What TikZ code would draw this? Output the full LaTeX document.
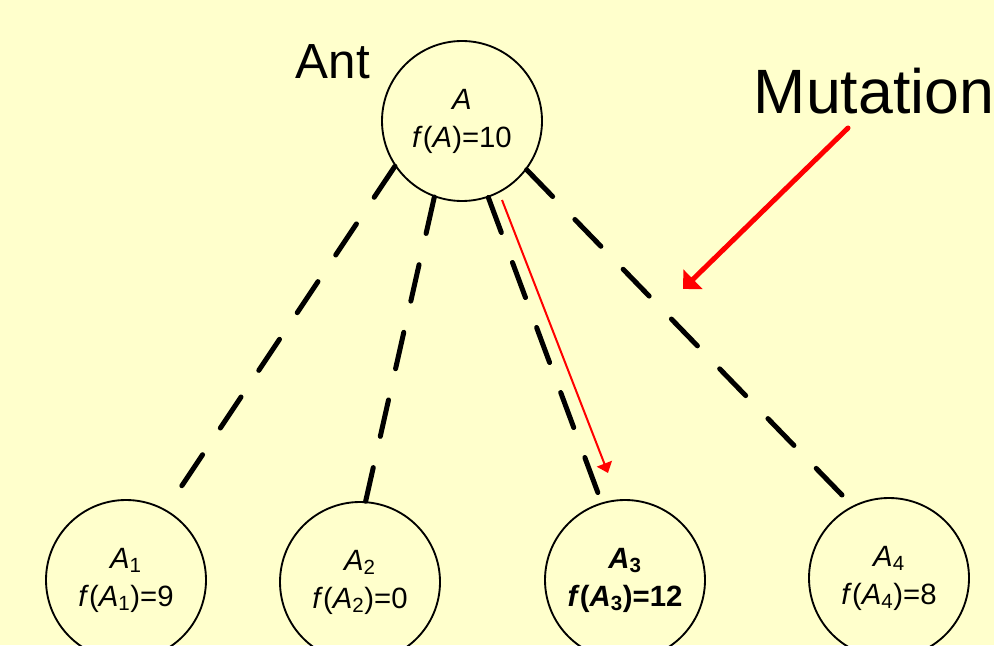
\documentclass[tikz,border=0pt]{standalone}
\usepackage{fontspec}
\setmainfont{Liberation Sans}
\usetikzlibrary{arrows.meta}
\definecolor{bgyellow}{RGB}{255,255,204}

\begin{document}
\begin{tikzpicture}[x=.75pt,y=-.75pt,line width=1.4pt,
  antnode/.style={circle,draw,minimum size=120pt,inner sep=0pt,align=center,
    font=\fontsize{22}{28.5}\selectfont},
  bestnode/.style={antnode,font=\fontsize{22}{28.5}\selectfont\bfseries},
  move/.style={line width=3.75pt,line cap=round,dash pattern=on 28pt off 24pt},
  label/.style={inner sep=0pt,anchor=base west}]
  \useasboundingbox[fill=bgyellow] (0,0) rectangle (994,645);
  % current ant and its four neighbours
  \node[antnode] (A) at (462,121) {\textit{A}\\\textit{f}(\textit{A})=10};
  \node[antnode] (A1) at (126,580) {\textit{A}\textsubscript{1}\\\textit{f}(\textit{A}\textsubscript{1})=9};
  \node[antnode] (A2) at (360,582) {\textit{A}\textsubscript{2}\\\textit{f}(\textit{A}\textsubscript{2})=0};
  \node[bestnode] (A3) at (625,580) {\textit{A}\textsubscript{3}\\\textit{f}(\textit{A}\textsubscript{3})=12};
  \node[antnode] (A4) at (889,578) {\textit{A}\textsubscript{4}\\\textit{f}(\textit{A}\textsubscript{4})=8};
  \node[label,font=\fontsize{37}{44}\selectfont] (antlbl) at (295,79) {Ant};
  \node[label,font=\fontsize{47}{56}\selectfont] (mutlbl) at (753,114) {Mutation};
  % dashed moves
  \coordinate (e1) at (181,487);
  \coordinate (e3) at (598,493);
  \coordinate (e4) at (842,495);
  \draw[move] (A.214)--(e1);
  \draw[move] (A.250)--(A2.86);
  \draw[move] (A.289)--(e3);
  \draw[move] (A.323)--(e4);
  % chosen move and mutation pointer
  \coordinate (r1) at (502,200);
  \coordinate (r2) at (608,473);
  \draw[red,line width=1.5pt,-{Triangle[length=7.5pt,width=12pt]}] (r1)--(r2);
  \coordinate (m1) at (848,128);
  \coordinate (m2) at (683,289);
  \draw[red,line width=3.75pt,line cap=round,-{Triangle[length=10.5pt,width=20pt]}] (m1)--(m2);
\end{tikzpicture}
\end{document}
